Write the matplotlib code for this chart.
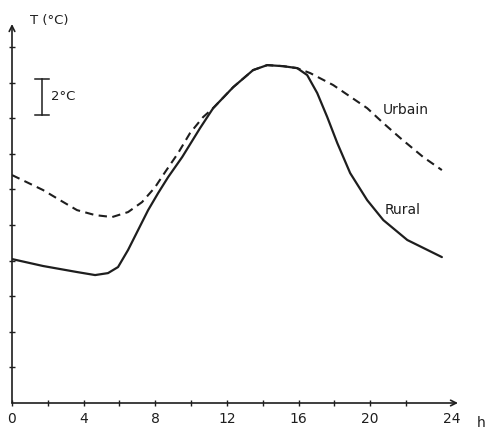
import matplotlib
matplotlib.use('Agg')
import matplotlib.pyplot as plt
import matplotlib.transforms as mtransforms

# Diurnal temperature, rural vs urban (in deg C above axis origin)
rural_h = [0, 1.73, 3.63, 4.64, 5.36, 5.92, 6.48, 7.04, 7.6, 8.16, 8.72, 9.5, 10.5,
           11.23, 12.35, 13.46, 14.25, 15.14, 15.92, 16.48, 17.04, 17.6, 18.16, 18.88,
           19.83, 20.73, 22.07, 24.0]
rural_t = [8.09, 7.7, 7.36, 7.19, 7.3, 7.64, 8.6, 9.72, 10.84, 11.8, 12.7, 13.82, 15.45,
           16.57, 17.75, 18.71, 18.99, 18.93, 18.82, 18.43, 17.42, 16.07, 14.61, 12.92,
           11.4, 10.28, 9.16, 8.2]

urban_h = [0, 1.73, 2.68, 3.63, 4.64, 5.59, 6.48, 7.26, 7.99, 8.55, 9.27, 9.94, 10.67,
           11.23, 12.35, 13.46, 14.25, 15.14, 15.92, 16.65, 17.93, 19.83, 20.73, 21.68,
           22.96, 24.0]
urban_t = [12.81, 11.97, 11.4, 10.84, 10.56, 10.45, 10.73, 11.29, 12.13, 12.98, 14.04, 15.17, 16.07,
           16.57, 17.75, 18.71, 18.99, 18.93, 18.82, 18.54, 17.87, 16.57, 15.73, 14.89,
           13.82, 13.09]

x_major = [0, 4, 8, 12, 16, 20, 24]
x_labels = ['0', '4', '8', '12', '16', '20', '24']
x_minor = [2, 6, 10, 14, 18, 22]
y_ticks = [2, 4, 6, 8, 10, 12, 14, 16, 18, 20]

ink = '#1e1e1e'

fig = plt.figure(figsize=(4.88, 4.30), dpi=100)
ax = fig.add_axes([12 / 488, 27 / 430, 446 / 488, 379 / 430])
ax.set_xlim(0, 24.9)
ax.set_ylim(0, 21.3)

ax.plot(rural_h, rural_t, color=ink, lw=1.6, solid_joinstyle='round', solid_capstyle='round')
ax.plot(urban_h, urban_t, color=ink, lw=1.5, dashes=(4, 2.6))

# axes drawn as arrows
for s in ax.spines.values():
    s.set_visible(False)
ax.annotate('', xy=(24.9, 0), xytext=(0, 0), xycoords='data',
            arrowprops=dict(arrowstyle='->', color=ink, lw=1.2, shrinkA=0, shrinkB=0),
            annotation_clip=False)
ax.annotate('', xy=(0, 21.3), xytext=(0, 0), xycoords='data',
            arrowprops=dict(arrowstyle='->', color=ink, lw=1.2, shrinkA=0, shrinkB=0),
            annotation_clip=False)

ax.set_xticks(x_major)
ax.set_xticklabels(x_labels)
ax.set_xticks(x_minor, minor=True)
ax.set_yticks(y_ticks)
ax.set_yticklabels([])
ax.tick_params(axis='both', which='both', direction='inout', length=5, width=1, color=ink,
               labelsize=10, labelcolor=ink)
ax.tick_params(axis='x', pad=4)
ax.xaxis.get_major_ticks()[-1].tick1line.set_visible(False)
last = ax.get_xticklabels()[-1]
last.set_transform(last.get_transform() + mtransforms.ScaledTranslation(0.1, 0, fig.dpi_scale_trans))

ax.text(1.0, 21.5, 'T (°C)', fontsize=9.5, color=ink, va='center', ha='left')
ax.text(26.2, -1.1, 'h', fontsize=10, color=ink, va='center', ha='center', clip_on=False)

# 2 deg C scale bar
ax.plot([1.68, 1.68], [16.2, 18.2], color=ink, lw=1.1)
ax.plot([1.3, 2.06], [16.2, 16.2], color=ink, lw=1.1)
ax.plot([1.3, 2.06], [18.2, 18.2], color=ink, lw=1.1)
ax.text(2.15, 17.2, '2°C', fontsize=9.5, color=ink, va='center', ha='left')

ax.text(20.7, 16.46, 'Urbain', fontsize=10, color=ink, va='center', ha='left')
ax.text(20.8, 10.84, 'Rural', fontsize=10, color=ink, va='center', ha='left')

fig.savefig('out.png', dpi=100)
